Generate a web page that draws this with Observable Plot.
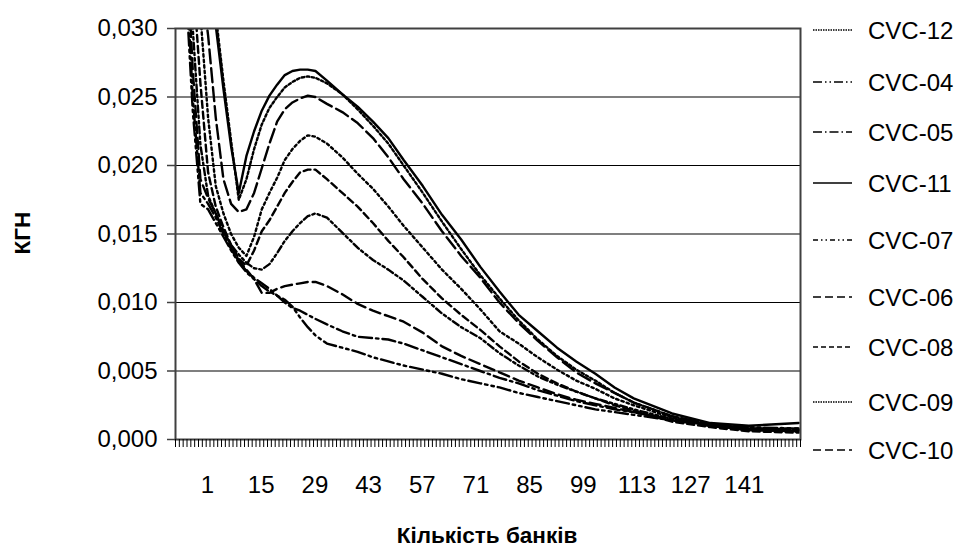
<!DOCTYPE html>
<html><head><meta charset="utf-8">
<script src="https://cdn.jsdelivr.net/npm/d3@7"></script>
<script src="https://cdn.jsdelivr.net/npm/@observablehq/plot@0.6"></script>
<style>
body{margin:0;background:#fff;font-family:"Liberation Sans",Arial,sans-serif;}
#wrap{position:relative;width:959px;height:550px;overflow:hidden;}
#wrap svg{position:absolute;left:0;top:0;}
</style></head><body><div id="wrap"></div>
<script>
const banks = [1,3,5,7,9,11,13,15,17,19,21,23,25,27,29,31,33,35,37,40,44,48,52,56,60,65,70,75,80,85,90,95,100,105,110,115,120,130,140,150,163];
const nCategories = 163;
const xTickLabels = [1,15,29,43,57,71,85,99,113,127,141];
const yTicks = [0,0.005,0.010,0.015,0.020,0.025,0.030];

const cvc12 = [0.085,0.066,0.050,0.041,0.035, 0.0310,0.0262,0.0218,0.0175,0.0190, 0.0212,0.0230,0.0242,0.0250,0.0257, 0.0261,0.0264,0.0265,0.0264,0.0260, 0.0252,0.0241,0.0229,0.0216,0.0200, 0.0180,0.0159,0.0139,0.0120,0.0103, 0.0087,0.0073,0.0061,0.0051,0.0043, 0.0034,0.0027,0.0017,0.0011,0.0008, 0.0008];
const cvc04 = [0.045,0.034,0.024,0.0172,0.0168, 0.0158,0.0148,0.0138,0.0129,0.0122, 0.0117,0.0112,0.0108,0.0105,0.0102, 0.0097,0.0089,0.0082,0.0076,0.0070, 0.0067,0.0064,0.0060,0.0057,0.0054, 0.0051,0.0048,0.0044,0.0041,0.0038, 0.0034,0.0031,0.0028,0.0025,0.0022, 0.0020,0.0018,0.0014,0.0011,0.0009, 0.0008];
const cvc05 = [0.048,0.036,0.025,0.0180,0.0172, 0.0162,0.0150,0.0139,0.0130,0.0123, 0.0118,0.0114,0.0110,0.0105,0.0100, 0.0096,0.0094,0.0091,0.0088,0.0084, 0.0079,0.0075,0.0074,0.0073,0.0070, 0.0065,0.0060,0.0055,0.0050,0.0045, 0.0041,0.0036,0.0032,0.0028,0.0025, 0.0022,0.0020,0.0015,0.0011,0.0008, 0.0007];
const cvc11 = [0.090,0.070,0.052,0.043,0.036, 0.0302,0.0256,0.0214,0.0180,0.0207, 0.0225,0.0240,0.0251,0.0259,0.0266, 0.0269,0.0270,0.0270,0.0269,0.0262, 0.0252,0.0243,0.0232,0.0220,0.0204, 0.0185,0.0164,0.0146,0.0126,0.0108, 0.0091,0.0079,0.0067,0.0057,0.0048, 0.0038,0.0030,0.0019,0.0012,0.0010, 0.0012];
const cvc07 = [0.055,0.042,0.030,0.0215,0.0178, 0.0165,0.0152,0.0142,0.0135,0.0129, 0.0125,0.0124,0.0128,0.0136,0.0145, 0.0152,0.0158,0.0163,0.0165,0.0162, 0.0151,0.0140,0.0131,0.0124,0.0116, 0.0104,0.0092,0.0082,0.0074,0.0063, 0.0054,0.0046,0.0040,0.0035,0.0030, 0.0026,0.0022,0.0015,0.0010,0.0007, 0.0006];
const cvc06 = [0.050,0.038,0.027,0.0190,0.0176, 0.0165,0.0152,0.0140,0.0131,0.0124, 0.0117,0.0107,0.0107,0.0110,0.0112, 0.0113,0.0114,0.0115,0.0115,0.0112, 0.0106,0.0099,0.0094,0.0090,0.0086, 0.0078,0.0068,0.0061,0.0055,0.0049, 0.0043,0.0038,0.0033,0.0029,0.0026, 0.0023,0.0020,0.0014,0.0010,0.0007, 0.0006];
const cvc08 = [0.060,0.046,0.034,0.026,0.0195, 0.0170,0.0155,0.0142,0.0132,0.0127, 0.0138,0.0152,0.0160,0.0170,0.0180, 0.0188,0.0195,0.0197,0.0197,0.0190, 0.0180,0.0170,0.0158,0.0145,0.0133, 0.0117,0.0103,0.0091,0.0080,0.0068, 0.0057,0.0048,0.0041,0.0035,0.0030, 0.0025,0.0021,0.0013,0.0009,0.0006, 0.0005];
const cvc09 = [0.065,0.050,0.038,0.031,0.0235, 0.0185,0.0165,0.0150,0.0140,0.0134, 0.0148,0.0168,0.0180,0.0191,0.0204, 0.0212,0.0218,0.0222,0.0221,0.0216, 0.0206,0.0194,0.0183,0.0170,0.0156, 0.0140,0.0124,0.0110,0.0095,0.0079, 0.0070,0.0060,0.0051,0.0043,0.0037, 0.0030,0.0025,0.0016,0.0010,0.0007, 0.0006];
const cvc10 = [0.070,0.055,0.042,0.034,0.0295, 0.0235,0.0190,0.0172,0.0166,0.0168, 0.0180,0.0198,0.0216,0.0232,0.0241, 0.0246,0.0249,0.0251,0.0250,0.0245, 0.0239,0.0231,0.0220,0.0206,0.0190, 0.0172,0.0152,0.0134,0.0118,0.0100, 0.0085,0.0072,0.0060,0.0049,0.0041, 0.0034,0.0027,0.0017,0.0011,0.0008, 0.0007];

const seriesNames = ["CVC-12","CVC-04","CVC-05","CVC-11","CVC-07","CVC-06","CVC-08","CVC-09","CVC-10"];
const seriesValues = [cvc12, cvc04, cvc05, cvc11, cvc07, cvc06, cvc08, cvc09, cvc10];
const seriesDash = ["2.5,2.5","13,4,2.5,4,2.5,4","13,4,2.5,4",null,"7,3,2.5,3,2.5,3","11,5","7,4","2.5,3","14,5"];
const legendDash = ["1.5,1","9,3,1.5,3,1.5,3","9,3,1.5,3",null,"5,3,1.5,3,1.5,3","8,4","5,3","1.5,1","8,4"];

const W = 959, H = 550;
const M = {left:175, right:159, top:28, bottom:111};
const groupOffset = 7.85; // Excel centers each label over its 14-category group
const fmt = d => d3.format(".3f")(d).replace(".", ",");

const lineMarks = seriesNames.map((name, i) => {
  const rows = banks.map((b, j) => ({series: name, bank: b, value: seriesValues[i][j]}));
  return Plot.line(rows, {x: "bank", y: "value", stroke: "#000", strokeWidth: 2.4,
    strokeDasharray: seriesDash[i] || undefined, clip: true});
});

const boundaries = d3.range(0, nCategories + 1).map(k => k + 0.5);

const chart = Plot.plot({
  width: W, height: H,
  marginLeft: M.left, marginRight: M.right, marginTop: M.top, marginBottom: M.bottom,
  style: {fontFamily: '"Liberation Sans", Arial, sans-serif', fontSize: "24px", color: "#000", background: "transparent", overflow: "visible"},
  x: {domain: [0.5, nCategories + 0.5], axis: null},
  y: {domain: [0, 0.03], axis: null},
  marks: [
    Plot.gridY(yTicks, {stroke: "#000", strokeOpacity: 1, strokeWidth: 1.2}),
    ...lineMarks,
    Plot.frame({stroke: "#404040", strokeWidth: 2}),
    Plot.axisY(yTicks, {tickSize: 8, tickPadding: 10, tickFormat: fmt, stroke: "#404040", strokeWidth: 1.5, fontSize: 24, label: null}),
    Plot.axisX(boundaries, {tickSize: 8, tickFormat: () => "", stroke: "#000", strokeWidth: 1, strokeOpacity: 1, label: null}),
    Plot.axisX(xTickLabels.map(v => v + groupOffset), {tickSize: 0, tickPadding: 36, tickFormat: d => String(Math.round(d - groupOffset)), fontSize: 24, label: null})
  ]
});
document.getElementById("wrap").appendChild(chart);

// axis titles
const svg = d3.select(chart);
svg.append("text").attr("x", 487).attr("y", 543).attr("text-anchor", "middle")
  .attr("font-weight", "bold").attr("font-size", 22.5).attr("fill", "#000").text("Кількість банків");
svg.append("text").attr("transform", "translate(30,233) rotate(-90)").attr("text-anchor", "middle")
  .attr("font-weight", "bold").attr("font-size", 22.5).attr("fill", "#000").text("КГН");

// legend
const legendY = [30, 82, 132, 183, 240, 297, 347, 402, 450];
const leg = d3.select("#wrap").append("svg").attr("width", 159).attr("height", 550)
  .style("left", "800px").style("top", "0px");
seriesNames.forEach((name, i) => {
  leg.append("line").attr("x1", 13).attr("x2", 52).attr("y1", legendY[i]).attr("y2", legendY[i])
    .attr("stroke", "#000").attr("stroke-width", 1.5)
    .attr("stroke-dasharray", legendDash[i] || null);
  leg.append("text").attr("x", 68).attr("y", legendY[i]).attr("dy", "0.36em")
    .attr("font-size", 24).attr("font-family", '"Liberation Sans", Arial, sans-serif').attr("fill", "#000").text(name);
});
</script></body></html>
